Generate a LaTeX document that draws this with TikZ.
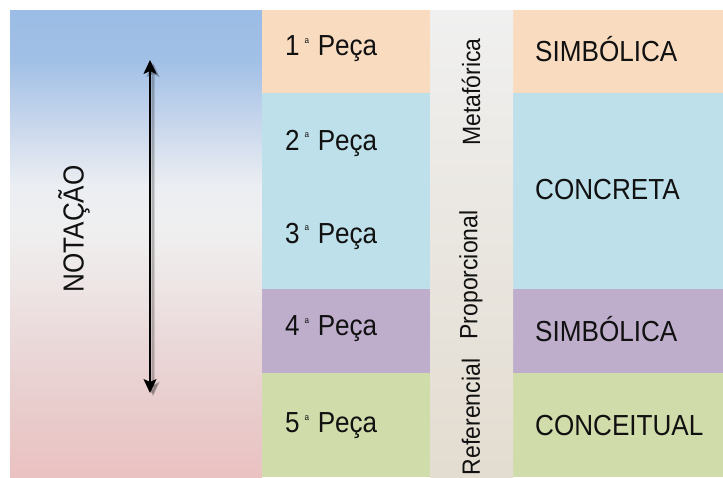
\documentclass[tikz,border=0pt]{standalone}
\usepackage{fontspec}
\setmainfont{Liberation Sans}
\usetikzlibrary{arrows.meta}
\definecolor{peach}{HTML}{F9DCC0}
\definecolor{lblue}{HTML}{BEE0EA}
\definecolor{lpurple}{HTML}{BEAECC}
\definecolor{lgreen}{HTML}{D0DCAA}
\definecolor{striptop}{HTML}{F0F0F0}
\definecolor{stripbot}{HTML}{E3DCD0}
\definecolor{ink}{HTML}{111111}
\definecolor{g1}{HTML}{9BBCE5}
\definecolor{g2}{HTML}{A1C0E6}
\definecolor{g3}{HTML}{C6D5EC}
\definecolor{g4}{HTML}{EBEEF2}
\definecolor{g5}{HTML}{EFEFEF}
\definecolor{g6}{HTML}{EEE6E6}
\definecolor{g7}{HTML}{EAD7D8}
\definecolor{g8}{HTML}{E9CACA}
\definecolor{g9}{HTML}{EBC2C2}
\pgfdeclareverticalshading{notgrad}{100bp}{color(0bp)=(g9); color(25bp)=(g9); color(31bp)=(g8); color(38.6bp)=(g7); color(46bp)=(g6); color(51.4bp)=(g5); color(56.3bp)=(g4); color(63.2bp)=(g3); color(69.6bp)=(g2); color(75bp)=(g1); color(100bp)=(g1)}
\newcommand{\ordA}[1]{#1\,\raisebox{0.42em}{\fontsize{9}{9}\selectfont a}\hspace{0.3em}Peça}
\begin{document}
\begin{tikzpicture}[x=1pt,y=-1pt,
  lbl/.style={font=\fontsize{29}{32}\selectfont\addfontfeature{FakeStretch=0.9}, inner sep=0, anchor=west, text=ink},
  vlbl/.style={font=\fontsize{25}{28}\selectfont\addfontfeature{FakeStretch=0.92}, rotate=90, inner sep=0, text=ink},
  arr/.style={{Stealth[length=14pt,width=13pt,inset=3pt]}-{Stealth[length=14pt,width=13pt,inset=3pt]}, line width=1.6pt}]
\useasboundingbox (0,0) rectangle (723,477);
% left gradient panel
\shade[shading=notgrad] (10,10) rectangle (262,477);
% rows
\fill[peach] (262,10) rectangle (723,93);
\fill[lblue] (262,93) rectangle (723,289);
\fill[lpurple] (262,289) rectangle (723,373);
\fill[lgreen] (262,373) rectangle (723,477);
% middle strip
\shade[top color=striptop, bottom color=stripbot] (430,10) rectangle (513,477);
% arrow with soft shadow
\coordinate (atop) at (150,60);
\coordinate (abot) at (150,393);
\coordinate (stop) at (153,63);
\coordinate (sbot) at (153,396);
\draw[arr, draw=black, opacity=0.12, line width=4pt] (stop) -- (sbot);
\draw[arr, draw=black, opacity=0.15] (stop) -- (sbot);
\draw[arr, draw=black] (atop) -- (abot);
\node[font=\fontsize{29}{32}\selectfont\addfontfeature{FakeStretch=0.9}, rotate=90, inner sep=0, text=ink] (notacao) at (74,229) {NOTAÇÃO};
% column 1
\node[lbl] (p1) at (285,49) {\ordA{1}};
\node[lbl] (p2) at (285,143) {\ordA{2}};
\node[lbl] (p3) at (285,236) {\ordA{3}};
\node[lbl] (p4) at (285,329) {\ordA{4}};
\node[lbl] (p5) at (285,426) {\ordA{5}};
% column 2
\node[vlbl] (meta) at (471,92) {Metafórica};
\node[vlbl] (prop) at (471,275) {Proporcional};
\node[vlbl] (ref) at (471,417) {Referencial};
% column 3
\node[lbl] (s1) at (535,49) {SIMBÓLICA};
\node[lbl] (c1) at (535,190) {CONCRETA};
\node[lbl] (s2) at (535,329) {SIMBÓLICA};
\node[lbl] (c2) at (535,426) {CONCEITUAL};
\end{tikzpicture}
\end{document}
